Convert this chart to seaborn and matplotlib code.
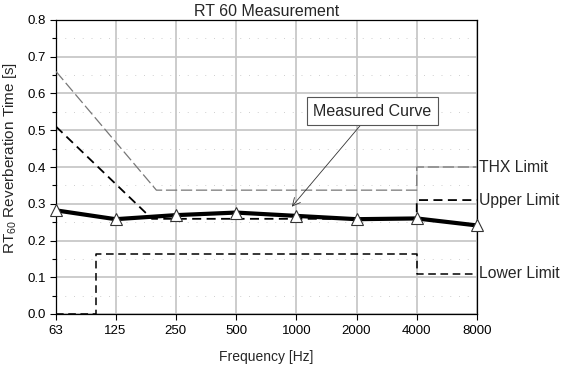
import matplotlib
matplotlib.use("Agg")
import matplotlib.pyplot as plt
import matplotlib.transforms as mtransforms
from matplotlib.ticker import FixedLocator, MultipleLocator, NullFormatter
import seaborn as sns
import pandas as pd

# ---- data ----
freq_labels = ["63", "125", "250", "500", "1000", "2000", "4000", "8000"]
freqs = [63, 125, 250, 500, 1000, 2000, 4000, 8000]
measured = [0.282, 0.258, 0.269, 0.276, 0.267, 0.258, 0.260, 0.241]

thx_f = [63, 200, 4000, 4000, 8000]
thx_v = [0.66, 0.337, 0.337, 0.40, 0.40]

upper_f = [63, 190, 4000, 4000, 8000]
upper_v = [0.51, 0.259, 0.259, 0.31, 0.31]

lower_f = [63, 100, 100, 4000, 4000, 8000]
lower_v = [0.0, 0.0, 0.162, 0.162, 0.11, 0.11]

title = "RT 60 Measurement"
xlabel = "Frequency [Hz]"
ylabel = "RT$_{60}$ Reverberation Time [s]"

sns.set_style("white")
plt.rcParams["font.family"] = ["Liberation Sans", "DejaVu Sans"]
plt.rcParams["mathtext.fontset"] = "custom"
plt.rcParams["mathtext.rm"] = "Liberation Sans"
plt.rcParams["mathtext.it"] = "Liberation Sans"

fig = plt.figure(figsize=(5.74, 3.72), dpi=100)
ax = fig.add_axes([56 / 574, 58 / 372, 421 / 574, 294 / 372])

df_meas = pd.DataFrame({"f": freqs, "v": measured})
df_thx = pd.DataFrame({"f": thx_f, "v": thx_v})
df_up = pd.DataFrame({"f": upper_f, "v": upper_v})
df_lo = pd.DataFrame({"f": lower_f, "v": lower_v})

sns.lineplot(data=df_thx, x="f", y="v", sort=False, estimator=None, ax=ax,
             color="#777777", lw=0.9, linestyle=(0, (9, 3)), zorder=3)
sns.lineplot(data=df_up, x="f", y="v", sort=False, estimator=None, ax=ax,
             color="black", lw=1.3, linestyle=(0, (5, 3)), zorder=3)
sns.lineplot(data=df_lo, x="f", y="v", sort=False, estimator=None, ax=ax,
             color="black", lw=1.1, linestyle=(0, (5, 3)), zorder=3)
sns.lineplot(data=df_meas, x="f", y="v", sort=False, estimator=None, ax=ax,
             color="black", lw=3.0, marker="^", markersize=8,
             markerfacecolor="white", markeredgecolor="#333333",
             markeredgewidth=0.8, zorder=4, clip_on=False)

ax.set_xscale("log", base=2)
ax.set_xlim(63, 8000)
ax.set_ylim(0, 0.8)
ax.set_xticks(freqs)
ax.set_xticklabels(freq_labels)
ax.xaxis.set_minor_locator(FixedLocator([]))
ax.xaxis.set_minor_formatter(NullFormatter())
ax.yaxis.set_major_locator(MultipleLocator(0.1))
ax.yaxis.set_minor_locator(MultipleLocator(0.05))
ax.yaxis.set_major_formatter(matplotlib.ticker.FormatStrFormatter("%.1f"))

ax.grid(True, which="major", axis="both", color="#c8c8c8", lw=1.3, zorder=0)
ax.grid(True, which="minor", axis="y", color="#cfcfcf", lw=0.7, linestyle=(0, (1, 8)), zorder=0)
ax.set_axisbelow(True)

for s in ax.spines.values():
    s.set_color("black")
    s.set_linewidth(0.9)

ax.tick_params(axis="both", which="both", direction="out", length=4, width=0.8,
               colors="black", labelsize=9.5, left=True, bottom=True)
ax.tick_params(axis="y", which="minor", length=3)
ax.tick_params(axis="x", pad=4)

ax.set_title(title, fontsize=11.5, pad=3)
ax.set_xlabel(xlabel, fontsize=10, labelpad=9)
ax.set_ylabel(ylabel, fontsize=11)
ax.yaxis.set_label_coords(-0.087, 0.53)

trans = mtransforms.blended_transform_factory(ax.transAxes, ax.transData)
ax.text(1.005, 0.40, "THX Limit", transform=trans, va="center", ha="left", fontsize=11.3)
ax.text(1.005, 0.31, "Upper Limit", transform=trans, va="center", ha="left", fontsize=11.3)
ax.text(1.005, 0.11, "Lower Limit", transform=trans, va="center", ha="left", fontsize=11.3)

ax.annotate("Measured Curve", xy=(950, 0.292), xytext=(2400, 0.552),
            fontsize=11.5, ha="center", va="center",
            bbox=dict(boxstyle="square,pad=0.4", fc="white", ec="#555555", lw=0.8),
            arrowprops=dict(arrowstyle="->", lw=0.6, color="#333333",
                            shrinkA=0, shrinkB=0, mutation_scale=14),
            zorder=6)

fig.savefig("out.png", dpi=100)
